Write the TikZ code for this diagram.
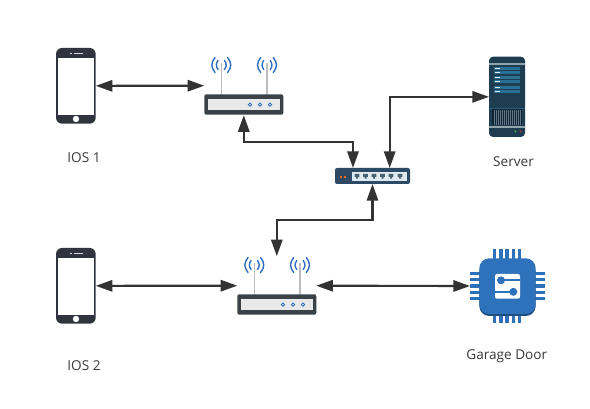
\documentclass[tikz,border=0pt]{standalone}
\usepackage{fontspec}
\setmainfont{Open Sans}
\usetikzlibrary{arrows.meta}
\definecolor{phonec}{HTML}{30343F}
\definecolor{routerd}{HTML}{3A4247}
\definecolor{routerl}{HTML}{E9E9E9}
\definecolor{wave}{HTML}{2F6DC0}
\definecolor{ant}{HTML}{BDBDBD}
\definecolor{servb}{HTML}{1F3D50}
\definecolor{servs}{HTML}{2A6F96}
\definecolor{servg}{HTML}{8FA3AD}
\definecolor{servd}{HTML}{0F2536}
\definecolor{chipc}{HTML}{2D72BB}
\definecolor{chipd}{HTML}{1D4F80}
\definecolor{swb}{HTML}{2C4A63}
\definecolor{swl}{HTML}{DFE9F2}
\definecolor{swp}{HTML}{4A6070}
\definecolor{linec}{HTML}{333333}
\tikzset{
  icon/.style={inner sep=0pt,outer sep=0pt,draw=none},
  link/.style={draw=linec,line width=1.6pt,{Triangle[length=12.5pt,width=8.5pt]}-{Triangle[length=12.5pt,width=8.5pt]}},
  label/.style={inner sep=0pt,font=\fontsize{10.2pt}{12pt}\selectfont,text=black!78},
}
\newcommand{\phoneicon}[2]{% x y of top-left
  \begin{scope}[shift={(#1,#2)}]
    \fill[phonec,rounded corners=4.5pt] (0,0) rectangle (39.7,75.7);
    \fill[white] (2,10.3) rectangle (37.7,66.7);
    \fill[white] (20,71) circle (3.2);
    \fill[white!80!phonec] (14,5.4) rectangle (15.6,6.4);
    \fill[white!80!phonec] (17.5,5.4) rectangle (27,6.4);
  \end{scope}}
\newcommand{\waveicon}[2]{%
  \begin{scope}[shift={(#1,#2)}]
    \draw[ant,line width=1.2pt] (0,-2) -- (0,31);
    \draw[wave,line width=1.05pt,line cap=round]
      (-6.3,-7.5) .. controls (-10.5,-2) and (-10.5,2) .. (-6.3,7.5)
      (6.3,-7.5) .. controls (10.5,-2) and (10.5,2) .. (6.3,7.5)
      (-3.2,-4.5) .. controls (-5.5,-1.5) and (-5.5,1.5) .. (-3.2,4.5)
      (3.2,-4.5) .. controls (5.5,-1.5) and (5.5,1.5) .. (3.2,4.5);
  \end{scope}}
\newcommand{\routericon}[2]{% x y of top-left of box
  \begin{scope}[shift={(#1,#2)}]
    \waveicon{17}{-29.3}
    \waveicon{62.7}{-29.3}
    \fill[routerd,rounded corners=1.5pt] (0,0) rectangle (79,20.4);
    \fill[routerl] (3.5,5) rectangle (75.5,15.4);
    \foreach \d in {45.7,55.7,65.7}
      \draw[wave,fill=white,line width=0.7pt] (\d,10.3) circle (1.6);
  \end{scope}}
\begin{document}
\begin{tikzpicture}[x=0.75pt,y=-0.75pt]
\useasboundingbox (0,0) rectangle (590,409);
% icons
\phoneicon{56}{48}
\phoneicon{56}{248}
\routericon{204.3}{94.3}
\routericon{237.3}{294.3}
% server
\fill[servb,rounded corners=3pt] (489,56.7) rectangle (525,137);
\fill[servg] (489,63) rectangle (525,64.6);
\fill[servg] (489,126) rectangle (525,128);
\fill[servd] (492,108.5) rectangle (522,125);
\foreach \i in {0,...,13} \fill[servb!70!white] ({493.5+2*\i},110) rectangle ({494+2*\i},125);
\fill[servs!70!servb] (489,108) rectangle (525,108.6);
\foreach \a in {68.5,72.5,78,82,88,92} {
  \fill[servs] (494,\a-1.8) rectangle (520,\a+1.4);
  \fill[white!85!servs] (495,\a-0.8) rectangle (499.5,\a+0.4);
}
\fill[green!55!black!70!white] (515.5,131.5) circle (1.1);
\fill[red!60!black!80!white] (520.5,131.5) circle (1.1);
% switch
\fill[swb,rounded corners=1.5pt] (335,168) rectangle (410,184);
\fill[swl] (351.5,172.5) rectangle (406.5,181);
\foreach \p in {357,365.5,374,382.5,391,400} {
  \fill[swp] (\p-2.3,174) -- (\p+2.3,174) -- (\p+2.3,177) -- (\p+1,177) -- (\p+1,178.7) -- (\p-1,178.7) -- (\p-1,177) -- (\p-2.3,177) -- cycle;
}
\fill[orange!80!red] (340,176) rectangle (342,178);
\fill[orange!80!red] (343.5,176) rectangle (345.5,178);
% chip
\foreach \o in {0,6.3,12.6,18.9,25.2} {
  \fill[chipc] ({492.7+\o},249) rectangle ({496.2+\o},260);
  \fill[chipc] ({492.7+\o},314) rectangle ({496.2+\o},323.3);
  \fill[chipc] (470,{271.7+\o}) rectangle (482,{275+\o});
  \fill[chipc] (533,{271.7+\o}) rectangle (545,{275+\o});
}
\fill[chipd,rounded corners=7.5pt] (479.3,262) rectangle (535.7,316);
\fill[chipc,rounded corners=7.5pt] (479.3,258.3) rectangle (535.7,314);
\fill[white,rounded corners=1.5pt] (495,274) rectangle (520,298.7);
\draw[chipc,line width=1.5pt] (501,280.3) -- (520,280.3);
\draw[chipc,line width=1.5pt] (495,291.8) -- (513.3,291.8);
\fill[chipc] (501,280.3) circle (4);
\fill[chipc] (513.3,291.8) circle (4);
% anchor nodes covering the icons
\node[icon,minimum width=29.8pt,minimum height=56.8pt] (phone1) at (75.85,85.85) {};
\node[icon,minimum width=29.8pt,minimum height=56.8pt] (phone2) at (75.85,285.85) {};
\node[icon,minimum width=59.25pt,minimum height=44.25pt] (router1) at (243.8,85.7) {};
\node[icon,minimum width=59.25pt,minimum height=44.25pt] (router2) at (276.8,285.7) {};
\node[icon,minimum width=27pt,minimum height=60.2pt] (server) at (507,96.85) {};
\node[icon,minimum width=56.25pt,minimum height=12pt] (switch) at (372.5,176) {};
\node[icon,minimum width=56.25pt,minimum height=56.2pt] (chip) at (507.5,286) {};
\coordinate (swa) at (353,168);
\coordinate (swb) at (389.7,168);
\coordinate (ela) at (243.8,141.7);
\coordinate (elb) at (372.5,220.3);
% connectors
\draw[link] (phone1.east) -- (router1.west);
\draw[link] (phone2.east) -- (router2.west);
\draw[link] (router2.east) -- (chip.west);
\draw[link] (router1.south) -- (ela) -| (swa);
\draw[link] (swb) |- (server.west);
\draw[link] (switch.south) -- (elb) -| (router2.north);
% labels
\node[label] (t1) at (84,157.5) {IOS 1};
\node[label] (t2) at (84,365.5) {IOS 2};
\node[label] (t3) at (513.5,161.5) {Server};
\node[label] (t4) at (506.8,356) {Garage Door};
\end{tikzpicture}
\end{document}
